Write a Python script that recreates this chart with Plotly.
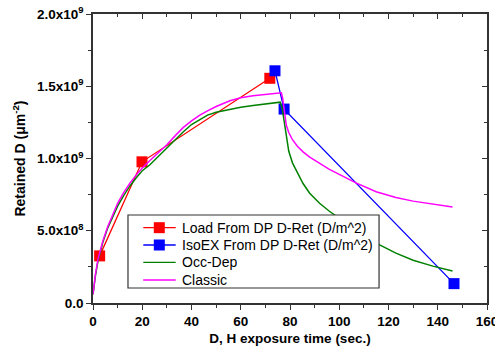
import plotly.graph_objects as go

# Data
load_x = [2.7, 19.9, 71.8]
load_y = [0.326e9, 0.977e9, 1.555e9]

iso_x = [73.9, 77.6, 146.6]
iso_y = [1.607e9, 1.342e9, 0.134e9]

occ_x = [0, 0.5, 1, 2, 3, 4, 6, 8, 10, 12.5, 15, 17.5, 20, 23, 26.5, 30, 33.5, 36.7, 40,
         43.3, 46.5, 50, 55, 60, 65, 70, 75, 76, 76.8, 77.5, 78.5, 79.5, 81, 83, 85.3, 88,
         92, 96, 100, 105, 110, 116.6, 123, 130, 138, 146]
occ_y = [0.06e9, 0.13e9, 0.19e9, 0.29e9, 0.36e9, 0.42e9, 0.52e9, 0.60e9, 0.67e9, 0.745e9,
         0.81e9, 0.865e9, 0.915e9, 0.955e9, 1.015e9, 1.075e9, 1.135e9, 1.185e9, 1.235e9,
         1.27e9, 1.30e9, 1.32e9, 1.34e9, 1.355e9, 1.367e9, 1.378e9, 1.39e9, 1.39e9,
         1.35e9, 1.27e9, 1.14e9, 1.05e9, 0.97e9, 0.90e9, 0.827e9, 0.76e9, 0.69e9, 0.635e9,
         0.585e9, 0.525e9, 0.47e9, 0.40e9, 0.345e9, 0.296e9, 0.255e9, 0.222e9]

cls_x = [0, 0.5, 1, 2, 3, 4, 6, 8, 10, 12.5, 15, 17.5, 20, 23, 26.5, 30, 33.5, 36.7, 40,
         43.4, 46.5, 50, 55.6, 60, 65, 70, 75, 76.5, 77, 77.5, 78, 78.5, 79.5, 81, 83, 85.3,
         88, 92, 96, 100, 107, 115, 123, 130, 138, 146]
cls_y = [0.06e9, 0.14e9, 0.20e9, 0.30e9, 0.37e9, 0.43e9, 0.53e9, 0.615e9, 0.69e9, 0.765e9,
         0.83e9, 0.885e9, 0.935e9, 0.985e9, 1.04e9, 1.095e9, 1.16e9, 1.215e9, 1.26e9,
         1.30e9, 1.33e9, 1.36e9, 1.40e9, 1.42e9, 1.435e9, 1.445e9, 1.452e9, 1.455e9,
         1.42e9, 1.35e9, 1.28e9, 1.23e9, 1.18e9, 1.13e9, 1.085e9, 1.046e9, 1.01e9, 0.965e9,
         0.925e9, 0.89e9, 0.83e9, 0.77e9, 0.73e9, 0.705e9, 0.685e9, 0.665e9]

series_names = ["Load From DP D-Ret (D/m^2)", "IsoEX From DP D-Ret (D/m^2)",
                "Occ-Dep", "Classic"]
series_colors = ["#ff0000", "#0000ff", "#008000", "#ff00ff"]
series_markers = [True, True, False, False]

y_tickvals = [0, 0.5e9, 1.0e9, 1.5e9, 2.0e9]
y_ticktext = ["0.0", "5.0x10<sup>8</sup>", "1.0x10<sup>9</sup>",
              "1.5x10<sup>9</sup>", "2.0x10<sup>9</sup>"]
y_minor = [0.25e9, 0.75e9, 1.25e9, 1.75e9]
x_tickvals = [0, 20, 40, 60, 80, 100, 120, 140, 160]
x_minor = [10, 30, 50, 70, 90, 110, 130, 150]

FONT = "Arial, Liberation Sans, sans-serif"
AX = "#333333"

fig = go.Figure()
xs = [load_x, iso_x, occ_x, cls_x]
ys = [load_y, iso_y, occ_y, cls_y]
for i in range(4):
    if series_markers[i]:
        fig.add_trace(go.Scatter(x=xs[i], y=ys[i], mode="lines+markers", name=series_names[i],
                                 line=dict(color=series_colors[i], width=1.3),
                                 marker=dict(symbol="square", size=11, color=series_colors[i]),
                                 showlegend=False))
    else:
        fig.add_trace(go.Scatter(x=xs[i], y=ys[i], mode="lines", name=series_names[i],
                                 line=dict(color=series_colors[i], width=1.5),
                                 showlegend=False))

# invisible trace for top/right mirrored axes with inside ticks
fig.add_trace(go.Scatter(x=[0], y=[0], xaxis="x2", yaxis="y2", mode="markers",
                         marker=dict(opacity=0), showlegend=False, hoverinfo="skip"))

# Manual legend (paper coordinates of plot area)
PW, PH = 394.0, 289.0
shapes = [dict(type="rect", xref="paper", yref="paper", x0=0.0888, x1=0.726,
               y0=0.0519, y1=0.3045, line=dict(color=AX, width=1.2),
               fillcolor="white", layer="above")]
annotations = []
row_y = [0.2606, 0.2007, 0.1408, 0.0796]
for i in range(4):
    shapes.append(dict(type="line", xref="paper", yref="paper", x0=0.1276, x1=0.2099,
                       y0=row_y[i], y1=row_y[i],
                       line=dict(color=series_colors[i], width=1.3), layer="above"))
    if series_markers[i]:
        hw, hh = 5.5 / PW, 5.5 / PH
        shapes.append(dict(type="rect", xref="paper", yref="paper",
                           x0=0.1683 - hw, x1=0.1683 + hw, y0=row_y[i] - hh, y1=row_y[i] + hh,
                           line=dict(width=0), fillcolor=series_colors[i], layer="above"))
    annotations.append(dict(xref="paper", yref="paper", x=0.2208, y=row_y[i],
                            xanchor="left", yanchor="middle", showarrow=False,
                            text=series_names[i],
                            font=dict(family=FONT, size=14, color="black")))

fig.update_layout(
    width=495, height=352,
    margin=dict(l=93, r=8, t=14, b=49, autoexpand=False),
    paper_bgcolor="white", plot_bgcolor="white",
    font=dict(family=FONT, size=13, color="black"),
    showlegend=False,
    shapes=shapes, annotations=annotations,
    xaxis=dict(range=[0, 160], tickvals=x_tickvals,
               ticktext=["<b>%d</b>" % v for v in x_tickvals],
               ticklabeloverflow="allow", automargin=False,
               ticks="outside", ticklen=5, tickwidth=1.3, tickcolor=AX,
               showline=True, linecolor=AX, linewidth=1.5, mirror=True,
               showgrid=False, zeroline=False,
               tickfont=dict(family=FONT, size=13.5, color="black"),
               minor=dict(tickvals=x_minor, ticks="outside", ticklen=3, tickcolor=AX),
               title=dict(text="<b>D, H exposure time (sec.)</b>",
                          font=dict(family=FONT, size=13.5), standoff=6)),
    yaxis=dict(range=[0, 2.0e9], tickvals=y_tickvals,
               ticktext=["<b>%s</b>" % t for t in y_ticktext],
               ticklabeloverflow="allow", automargin=False,
               ticks="outside", ticklen=5, tickwidth=1.3, tickcolor=AX,
               showline=True, linecolor=AX, linewidth=1.5, mirror=True,
               showgrid=False, zeroline=False,
               tickfont=dict(family=FONT, size=13.5, color="black"),
               minor=dict(tickvals=y_minor, ticks="outside", ticklen=3, tickcolor=AX),
               title=dict(text="<b>Retained D (μm<sup>-2</sup>)</b>",
                          font=dict(family=FONT, size=14), standoff=8)),
    xaxis2=dict(range=[0, 160], overlaying="x", side="top", tickvals=x_tickvals,
                ticks="inside", ticklen=5, tickwidth=1.3, tickcolor=AX, automargin=False,
                showticklabels=False, showgrid=False, zeroline=False, showline=False,
                minor=dict(tickvals=x_minor, ticks="inside", ticklen=3, tickcolor=AX)),
    yaxis2=dict(range=[0, 2.0e9], overlaying="y", side="right", tickvals=y_tickvals,
                ticks="inside", ticklen=5, tickwidth=1.3, tickcolor=AX, automargin=False,
                showticklabels=False, showgrid=False, zeroline=False, showline=False,
                minor=dict(tickvals=y_minor, ticks="inside", ticklen=3, tickcolor=AX)),
)

fig.write_html("out.html")
